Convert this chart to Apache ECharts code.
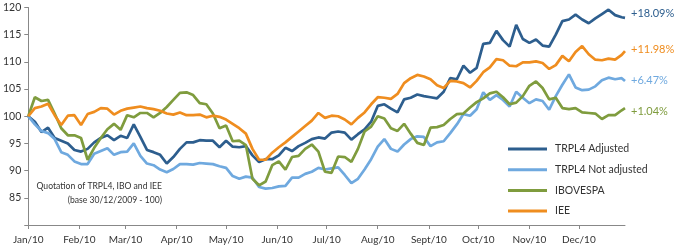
<!DOCTYPE html>
<html><head><meta charset="utf-8">
<script src="https://cdn.jsdelivr.net/npm/echarts@6/dist/echarts.min.js"></script>
<style>html,body{margin:0;padding:0;background:#fff}#c{width:674px;height:250px}</style>
</head><body><div id="c"></div>
<script>
var dates = ['01-01','01-05','01-09','01-13','01-17','01-21','01-25','01-29','02-02','02-06','02-10','02-14','02-18','02-22','02-26','03-02','03-06','03-10','03-14','03-18','03-22','03-26','03-30','04-03','04-07','04-11','04-15','04-19','04-23','04-27','05-01','05-05','05-09','05-13','05-17','05-21','05-25','05-29','06-02','06-06','06-10','06-14','06-18','06-22','06-26','06-30','07-04','07-08','07-12','07-16','07-20','07-24','07-28','08-01','08-05','08-09','08-13','08-17','08-21','08-25','08-29','09-02','09-06','09-10','09-14','09-18','09-22','09-26','09-30','10-04','10-08','10-12','10-16','10-20','10-24','10-28','11-01','11-05','11-09','11-13','11-17','11-21','11-25','11-29','12-03','12-07','12-11','12-15','12-19','12-23','12-27','12-29'];
var adjusted = [100, 99, 97.1, 97.9, 96, 95.5, 95, 93.8, 93.5, 94, 95.2, 96, 96.5, 95.6, 96.4, 96, 98.5, 96.2, 93.8, 93.4, 92.9, 91.3, 92.5, 94, 95.2, 95.2, 95.6, 95.5, 95.5, 94.3, 95.5, 94.4, 94.3, 94.5, 92.8, 91.6, 92.1, 92.1, 92.8, 94.2, 93.6, 94.5, 95.1, 95.8, 96.1, 95.9, 97, 97.2, 97, 95.7, 96.7, 97.6, 99, 101.9, 102.2, 101.4, 100.7, 103.1, 103.4, 104, 103.7, 103.5, 103.3, 104.5, 107, 106.8, 109.3, 108, 108.9, 113.3, 113.5, 115.7, 114, 112.8, 116.8, 114.2, 113.5, 114.1, 113, 112.8, 115, 117.5, 117.8, 118.7, 117.8, 117.1, 118, 118.8, 119.6, 118.6, 118.2, 118.09];
var notAdjusted = [100, 98.5, 97.3, 96.9, 95.8, 93.4, 92.9, 91.7, 91.2, 91.2, 93.1, 93.6, 94.1, 92.9, 93.4, 93.5, 95, 92.7, 91.3, 91, 90.2, 89.7, 90.3, 91.2, 91.2, 91.1, 91.4, 91.3, 91.2, 90.8, 90.5, 89, 88.5, 88.9, 88.7, 87, 86.7, 86.8, 87.1, 87.2, 88.7, 88.7, 89.4, 89.8, 90.5, 90.2, 90.4, 90.6, 89.2, 87.7, 88.5, 90.2, 92.1, 94.4, 95.8, 94, 93.5, 94.8, 95.8, 96.3, 96.2, 94.5, 95.2, 95.4, 96.9, 98.5, 100.4, 100.1, 101.3, 104.4, 103, 103.9, 103, 101.8, 104.5, 103.4, 102.4, 103.1, 102.8, 101.2, 103.7, 105.8, 107.7, 105.3, 104.8, 104.9, 105.5, 106.6, 107.1, 106.8, 107, 106.47];
var ibovespa = [100, 103.5, 102.8, 103, 100.5, 97.8, 96.5, 96.5, 96, 92, 94.2, 96, 97.6, 98.6, 97.5, 100.2, 99.8, 100.6, 100.6, 99.8, 100.6, 101.7, 103, 104.3, 104.4, 103.9, 102.4, 102.2, 100.5, 97.8, 98.3, 95.4, 95.5, 94.7, 88.5, 87.3, 88, 91, 91.7, 90.2, 92.5, 92.7, 94, 94.8, 93.5, 89.8, 89.6, 92.6, 92.5, 91.6, 94, 97.2, 98.1, 100, 99.6, 97.8, 97.3, 98.6, 96.8, 95.1, 94.7, 97.9, 98, 98.4, 99.5, 100.4, 100.5, 101.6, 102.6, 103.3, 104.2, 104.5, 103.5, 102.2, 102.5, 103.7, 105.6, 106.4, 105.2, 103.1, 103.4, 101.5, 101.3, 101.5, 100.7, 100.6, 100.5, 99.5, 100.2, 100.2, 101.1, 101.5];
var iee = [100, 101.5, 101.8, 102.3, 100.2, 98.4, 100.1, 100.2, 98.4, 100.4, 100.8, 101.5, 101.4, 100.3, 101, 101.4, 101.6, 101.8, 101.5, 101.3, 101, 100.5, 100.3, 100.7, 100.2, 100.2, 100.3, 99.8, 100.1, 99.9, 99.4, 98.6, 97.8, 96.8, 94, 92, 92, 93.3, 94.3, 95.2, 96.2, 97.2, 98.2, 99.2, 100.6, 99.7, 100.1, 100, 99.4, 98.5, 99.7, 100.7, 102.2, 103.5, 103.4, 103.2, 104.1, 106.1, 107, 107.6, 107.3, 106.8, 105.7, 105.2, 106.5, 106.4, 106.1, 105.3, 106.5, 108.1, 109, 110.5, 110.3, 109.3, 109.2, 109.9, 109.9, 110.1, 109.8, 108.7, 109.4, 111.1, 110.1, 111.8, 112.9, 111.4, 110.4, 110.3, 110.6, 110.4, 111.3, 111.98];
var seriesNames = ['TRPL4 Adjusted', 'TRPL4 Not adjusted', 'IBOVESPA', 'IEE'];
var endTexts = ['+18.09%', '+6.47%', '+1.04%', '+11.98%'];
var monthNames = ['Jan','Feb','Mar','Apr','May','Jun','Jul','Aug','Sept','Oct','Nov','Dec'];
var noteLines = ['Quotation of TRPL4, IBO and IEE', '(base 30/12/2009 - 100)'];

var colors = ['#2d5e8e', '#6fa9df', '#7f9c3e', '#ef8d1f'];
var labelOffsets = [[0,-4],[0,-1],[0,3],[0,-2]];
var allValues = [adjusted, notAdjusted, ibovespa, iee];
var FONT = 'Lato, "Open Sans", sans-serif';

function pairs(vals){ return dates.map(function(d,i){ return ['2010-' + d, vals[i]]; }); }

var chart = echarts.init(document.getElementById('c'), null, {renderer:'canvas'});
chart.setOption({
  animation: false,
  textStyle: {fontFamily: FONT},
  grid: {left: 25, right: 49, top: 7.5, bottom: 25, containLabel: false},
  xAxis: {
    type: 'time', min: '2010-01-01', max: '2010-12-29',
    splitNumber: 12, minInterval: 28*86400000,
    axisLine: {lineStyle: {color: '#888', width: 1}},
    axisTick: {show: true, length: 4, lineStyle: {color: '#888'}},
    splitLine: {show: false},
    axisLabel: {color: '#333', fontSize: 10, fontFamily: FONT, margin: 10,
      formatter: function(v){ var d = new Date(v); return monthNames[d.getMonth()] + '/10'; }}
  },
  yAxis: {
    type: 'value', min: 80, max: 120, interval: 5,
    axisLine: {show: true, lineStyle: {color: '#888', width: 1}},
    axisTick: {show: true, length: 4, lineStyle: {color: '#888'}},
    splitLine: {show: false},
    axisLabel: {color: '#333', fontSize: 10.5, fontFamily: FONT, margin: 7,
      formatter: function(v){ return v === 80 ? '' : String(v); }}
  },
  legend: {
    orient: 'vertical', left: 503, top: 137,
    itemWidth: 39, itemHeight: 3, itemGap: 6.7, icon: 'rect',
    textStyle: {fontSize: 10.5, lineHeight: 14, color: '#333', fontFamily: FONT, padding: [0,0,0,3]},
    data: seriesNames
  },
  graphic: [
    {type: 'text', right: 674 - 162, top: 182, style: {text: noteLines[0], fill: '#333', font: '8.6px ' + FONT, textAlign: 'right'}},
    {type: 'text', right: 674 - 162, top: 196, style: {text: noteLines[1], fill: '#333', font: '8.6px ' + FONT, textAlign: 'right'}}
  ],
  series: seriesNames.map(function(name, i){
    return {
      name: name, type: 'line', data: pairs(allValues[i]), showSymbol: false, symbol: 'none',
      lineStyle: {width: 2.7, color: colors[i]}, itemStyle: {color: colors[i]},
      endLabel: {show: true, formatter: endTexts[i], color: colors[i], fontSize: 11, fontFamily: FONT, distance: 6, offset: labelOffsets[i]},
      z: 2 + i
    };
  })
});
</script></body></html>
